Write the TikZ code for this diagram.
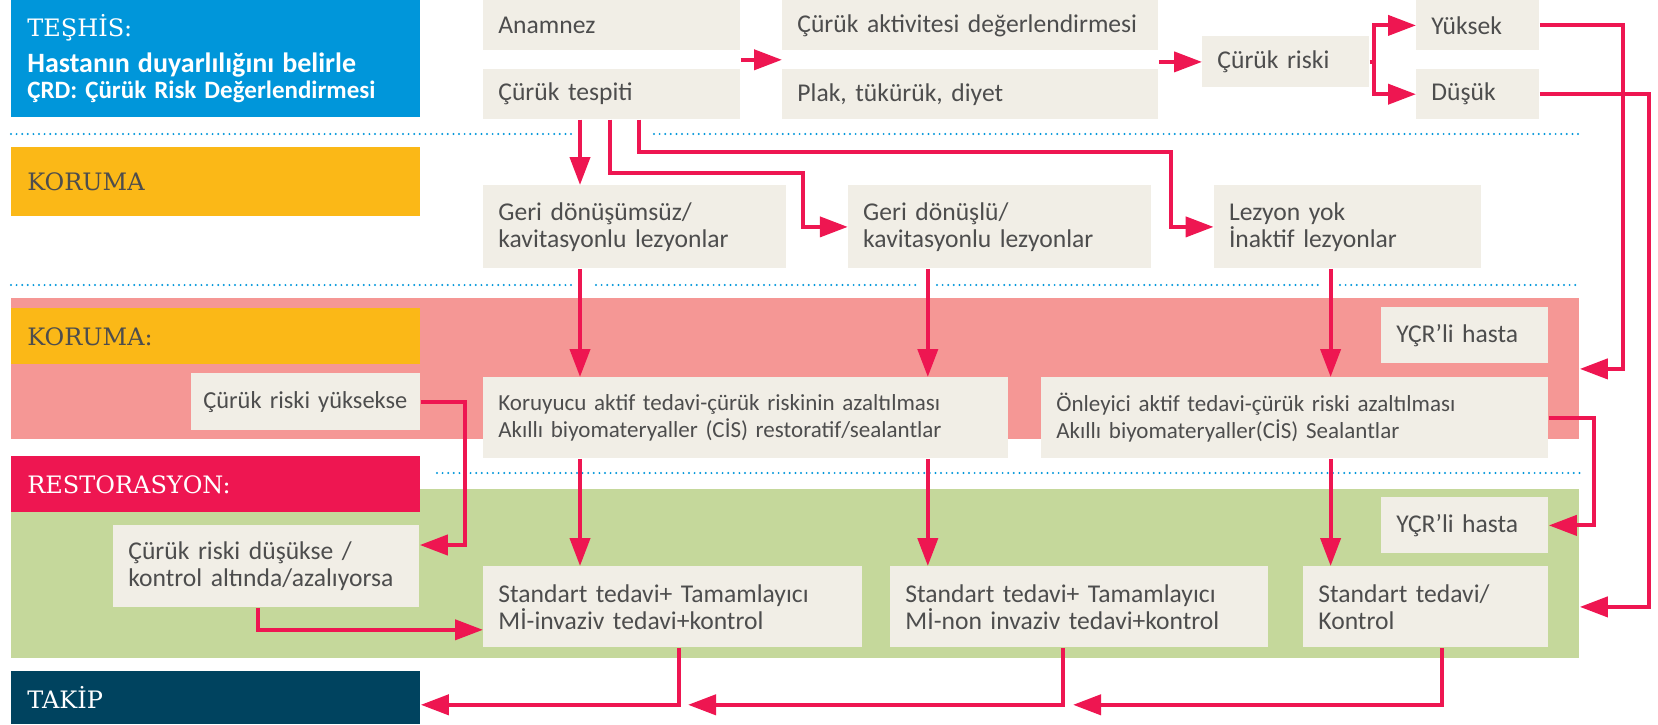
\documentclass[tikz,border=0pt]{standalone}
\usepackage{fontspec}
\setmainfont{Carlito}
\newfontfamily\slabfont{DejaVu Serif}
\usepackage{tikz}
\usetikzlibrary{arrows.meta,positioning,calc}
\hyphenpenalty=10000

\definecolor{teshisblue}{HTML}{0096DA}
\definecolor{korumayellow}{HTML}{FBB817}
\definecolor{restred}{HTML}{EE1651}
\definecolor{takipnavy}{HTML}{00435F}
\definecolor{pinkbg}{HTML}{F59795}
\definecolor{greenbg}{HTML}{C5D89B}
\definecolor{boxbg}{HTML}{F1EEE6}
\definecolor{boxtext}{HTML}{4D4D4D}

\begin{document}
\begin{tikzpicture}[
  x=0.5pt, y=-0.5pt,
  node distance=9pt,
  phase/.style={rectangle, anchor=north west, minimum width=204.5pt, text width=188.5pt,
                inner xsep=8pt, inner ysep=0pt, align=left, font=\slabfont\fontsize{12}{14}\selectfont},
  band/.style={rectangle, anchor=north west, minimum width=784pt, inner sep=0pt},
  cbox/.style={rectangle, fill=boxbg, anchor=north west, inner xsep=7.5pt, inner ysep=0pt,
               align=left, text=boxtext, font=\fontsize{12.8}{13.5}\selectfont},
  sbox/.style={cbox, font=\fontsize{11.5}{13.5}\selectfont},
  arr/.style={-{Triangle[length=14pt,width=10pt]}, line width=2pt, draw=restred},
  dotline/.style={draw=teshisblue, line width=1.1pt, line cap=round, dash pattern=on 0pt off 2.8pt},
]
\useasboundingbox (0,0) rectangle (1658,724);

% background bands
\node[band, fill=pinkbg, minimum height=70.5pt] (pinkband) at (11,298) {};
\node[band, fill=greenbg, minimum height=84.5pt] (greenband) at (11,489) {};

% phase labels on the left
\node[phase, fill=teshisblue, text=white, minimum height=58.5pt] (teshis) at (11,0)
  {TEŞHİS:\\[4pt]
   {\rmfamily\bfseries\fontsize{14}{17}\selectfont Hastanın duyarlılığını belirle}\\[-1pt]
   {\rmfamily\bfseries\fontsize{12.5}{13}\selectfont ÇRD: Çürük Risk Değerlendirmesi}};
\node[phase, fill=korumayellow, text=boxtext, minimum height=34.5pt] (koruma) at (11,147) {KORUMA};
\node[phase, fill=korumayellow, text=boxtext, minimum height=28pt] (korumab) at (11,308) {KORUMA:};
\node[phase, fill=restred, text=white, minimum height=28pt] (restorasyon) at (11,456) {RESTORASYON:};
\node[phase, fill=takipnavy, text=white, minimum height=26.5pt] (takip) at (11,671) {TAKİP};

% dotted separators
\foreach \a/\b in {11/573, 654/1580}
  \draw[dotline] (\a,134) -- (\b,134);
\foreach \a/\b in {11/573, 596/920, 937/1320, 1340/1580}
  \draw[dotline] (\a,285) -- (\b,285);
\draw[dotline] (437,473) -- (1580,473);

% diagnosis row
\node[cbox, text width=113.5pt, minimum height=25pt] (anamnez) at (483,0) {Anamnez};
\node[cbox, text width=113.5pt, minimum height=25pt, below=9pt of anamnez] (tespit) {Çürük tespiti};
\node[cbox, text width=173pt, minimum height=25pt] (aktivite) at (782,0) {Çürük aktivitesi değerlendirmesi};
\node[cbox, text width=173pt, minimum height=25pt, below=9pt of aktivite] (plak) {Plak, tükürük, diyet};
\node[cbox, text width=68.5pt, minimum height=25.5pt] (risk) at (1202,36) {Çürük riski};
\node[cbox, text width=46.5pt, minimum height=25pt] (yuksek) at (1416,0) {Yüksek};
\node[cbox, text width=46.5pt, minimum height=25pt, below=9pt of yuksek] (dusuk) {Düşük};

% lesion row
\node[cbox, text width=136.5pt, minimum height=41.5pt] (lez1) at (483,185) {Geri dönüşümsüz/\\kavitasyonlu lezyonlar};
\node[cbox, text width=136.5pt, minimum height=41.5pt, right=30.5pt of lez1] (lez2) {Geri dönüşlü/\\kavitasyonlu lezyonlar};
\node[cbox, text width=118.5pt, minimum height=41.5pt, right=31pt of lez2] (lez3) {Lezyon yok\\İnaktif lezyonlar};

% protection band
\node[cbox, text width=68.5pt, minimum height=28pt] (ycra) at (1381,307) {YÇR’li hasta};
\node[cbox, inner xsep=6pt, text width=102.5pt, minimum height=28.5pt, font=\fontsize{12.2}{13.5}\selectfont] (yuksekse) at (191,373) {Çürük riski yüksekse};
\node[sbox, text width=247.5pt, minimum height=40.5pt] (koruyucu) at (483,377)
  {Koruyucu aktif tedavi-çürük riskinin azaltılması\\Akıllı biyomateryaller (CİS) restoratif/sealantlar};
\node[sbox, text width=238.5pt, minimum height=40.5pt] (onleyici) at (1041,377)
  {Önleyici aktif tedavi-çürük riski azaltılması\\Akıllı biyomateryaller(CİS) Sealantlar};

% restoration band
\node[cbox, text width=68.5pt, minimum height=28pt] (ycrb) at (1381,497) {YÇR’li hasta};
\node[cbox, text width=138pt, minimum height=41pt] (dusukse) at (113,525) {Çürük riski düşükse /\\kontrol altında/azalıyorsa};
\node[cbox, text width=174.5pt, minimum height=40.5pt] (std1) at (483,566) {Standart tedavi+ Tamamlayıcı\\Mİ-invaziv tedavi+kontrol};
\node[cbox, text width=174pt, minimum height=40.5pt] (std2) at (890,566) {Standart tedavi+ Tamamlayıcı\\Mİ-non invaziv tedavi+kontrol};
\node[cbox, text width=107.5pt, minimum height=40.5pt] (std3) at (1303,566) {Standart tedavi/\\Kontrol};

% diagnosis flow
\draw[arr] ($(anamnez.south east)!0.5!(tespit.north east)$) coordinate (g1) -- (g1 -| aktivite.west);
\draw[arr] (risk.west -| aktivite.east) -- (risk.west);
\draw[arr] (risk.east) -- ++(4,0) |- (yuksek.west);
\draw[arr] (risk.east) -- ++(4,0) |- (dusuk.west);
\draw[arr] (yuksek.east) -- ++(83,0) |- (pinkband.east);
\draw[arr] (dusuk.east) -- ++(109,0) |- (greenband.east |- std3.east);

% caries detection -> lesions
\draw[arr] ($(tespit.south west)+(97,0)$) coordinate (c1) -- (c1 |- lez1.north);
\draw[arr] ($(tespit.south west)+(127,0)$) -- ++(0,53) -| ($(lez2.west)+(-45,0)$) -- (lez2.west);
\draw[arr] ($(tespit.south west)+(156,0)$) -- ++(0,32) -| ($(lez3.west)+(-43,0)$) -- (lez3.west);

% lesions -> protection -> restoration
\draw[arr] ($(lez1.south west)+(97,0)$) coordinate (c2) -- (c2 |- koruyucu.north);
\draw[arr] ($(lez2.south west)+(80,0)$) coordinate (c3) -- (c3 |- koruyucu.north);
\draw[arr] ($(lez3.south west)+(117,0)$) coordinate (c4) -- (c4 |- onleyici.north);
\draw[arr] (c2 |- koruyucu.south) -- (c2 |- std1.north);
\draw[arr] (c3 |- koruyucu.south) -- (c3 |- std2.north);
\draw[arr] (c4 |- onleyici.south) -- (c4 |- std3.north);
\draw[arr] (onleyici.east) -- ++(45,0) |- (ycrb.east);
\draw[arr] (yuksekse.east) -- ++(44,0) |- ($(dusukse.north east)+(0,20)$);
\draw[arr] ($(dusukse.south west)+(145,0)$) |- ($(std1.south west)+(0,-18)$);

% follow-up
\draw[arr] ($(std1.south west)+(196,0)$) |- ($(takip.south east)+(0,-20)$);
\draw[arr] ($(std2.south west)+(173,0)$) |- ($(std1.south west)+(205,57)$);
\draw[arr] ($(std3.south west)+(139,0)$) |- ($(std2.south west)+(183,57)$);

\end{tikzpicture}
\end{document}
